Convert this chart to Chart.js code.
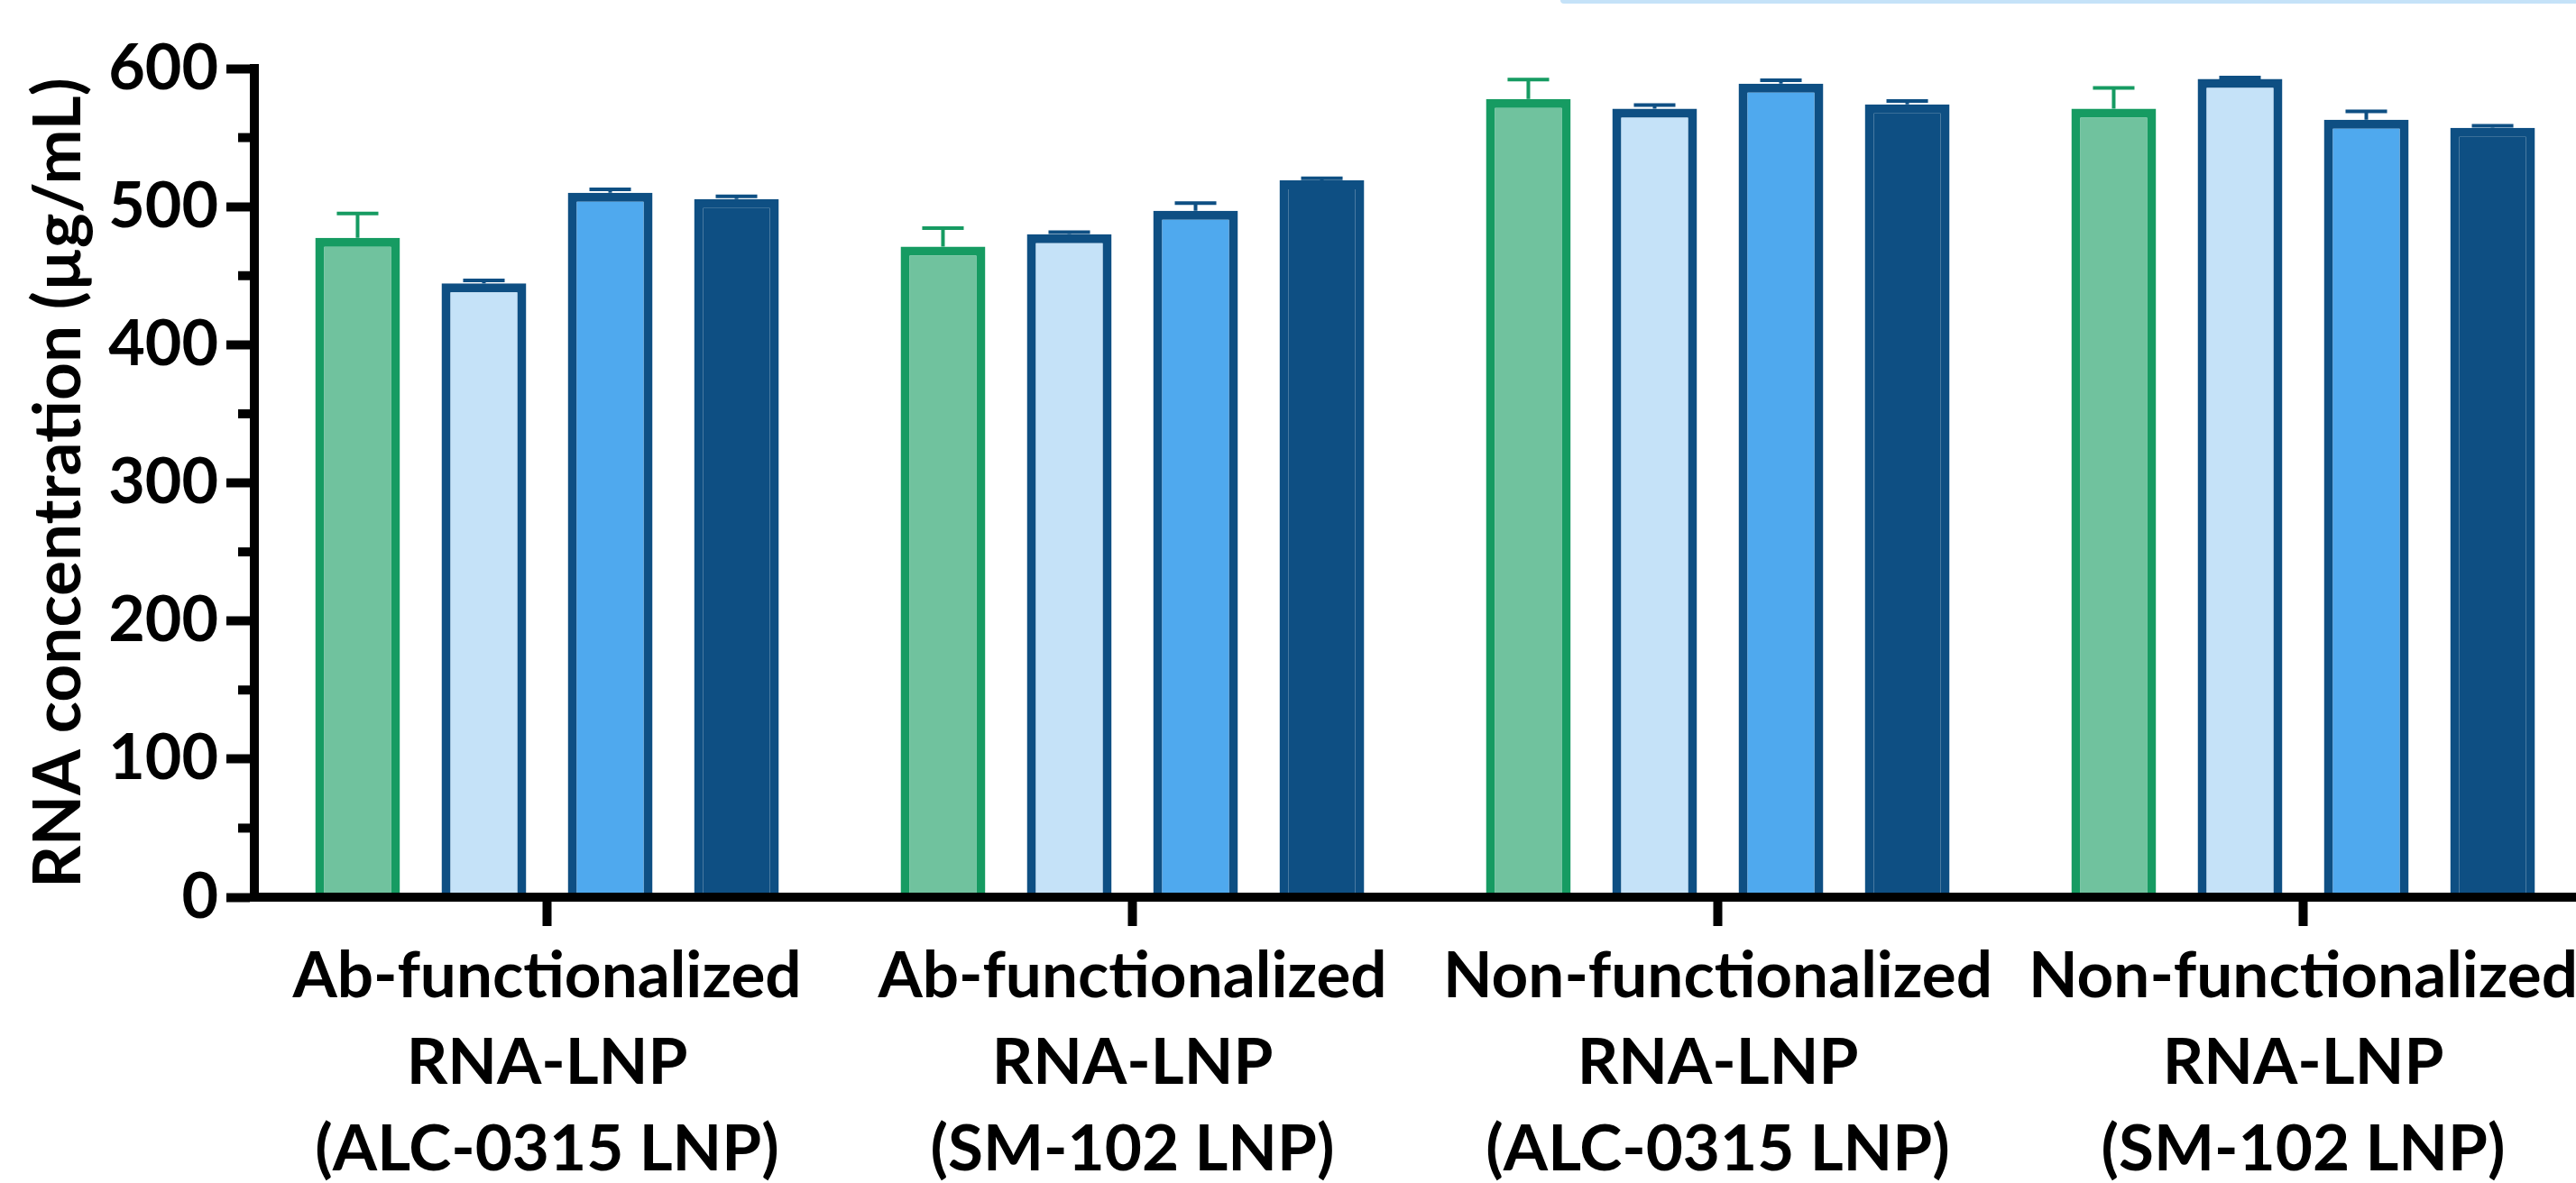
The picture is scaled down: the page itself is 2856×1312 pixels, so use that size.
<!DOCTYPE html>
<html>
<head>
<meta charset="utf-8">
<title>RNA concentration</title>
<script src="https://cdn.jsdelivr.net/npm/chart.js@4.4.1/dist/chart.umd.min.js"></script>
<style>
    html, body {
        margin: 0;
        padding: 0;
        background: #ffffff;
        overflow: hidden;
    }
    #wrap {
        position: relative;
        width: 2856px;
        height: 1312px;
        overflow: hidden;
    }
    /* light blue strip cut off at the top right of the figure */
    #topStrip {
        position: absolute;
        top: 0;
        left: 1730px;
        right: 0;
        height: 4px;
        background: #c5e2f8;
        border-bottom-left-radius: 4px;
    }
    #chart {
        position: absolute;
        left: 0;
        top: 0;
    }
</style>
</head>
<body>
<div id="wrap">
    <div id="topStrip"></div>
    <canvas id="chart" width="2878" height="1312"></canvas>
</div>
<script>
// Categories (x axis)
const categories = [
    ["Ab-functionalized", "RNA-LNP", "(ALC-0315 LNP)"],
    ["Ab-functionalized", "RNA-LNP", "(SM-102 LNP)"],
    ["Non-functionalized", "RNA-LNP", "(ALC-0315 LNP)"],
    ["Non-functionalized", "RNA-LNP", "(SM-102 LNP)"],
];

// Series values (µg/mL) and their upper error bars
const greenValues = [477.5, 471, 578, 571];
const greenErrors = [17.5, 13.5, 14, 15];
const lightBlueValues = [444.5, 480, 571, 592.5];
const lightBlueErrors = [2, 1.5, 2.5, 1];
const blueValues = [510, 497, 589, 563];
const blueErrors = [2.5, 5.5, 2.5, 6];
const navyValues = [505.5, 519, 574, 557];
const navyErrors = [2, 1.5, 2.5, 1.5];

// Y axis ticks
const yTicks = [0, 100, 200, 300, 400, 500, 600];
const yMinorTicks = [50, 150, 250, 350, 450, 550];

const FONT = "Lato";
const GREEN = "#169b62";
const NAVY = "#0e4f83";

// Upper error bars, drawn from the top of each bar
const errorBarPlugin = {
    id: "errorBars",
    afterDatasetsDraw(chart) {
        const ctx = chart.ctx;
        const yScale = chart.scales.y;
        chart.data.datasets.forEach((ds, i) => {
            const meta = chart.getDatasetMeta(i);
            meta.data.forEach((bar, j) => {
                const top = yScale.getPixelForValue(ds.data[j] + ds.errors[j]);
                const half = bar.width * 0.245;
                ctx.save();
                ctx.strokeStyle = ds.borderColor;
                ctx.lineWidth = 4;
                ctx.beginPath();
                ctx.moveTo(bar.x, bar.y);
                ctx.lineTo(bar.x, top);
                ctx.moveTo(bar.x - half, top);
                ctx.lineTo(bar.x + half, top);
                ctx.stroke();
                ctx.restore();
            });
        });
    },
};

// Short minor ticks between the labelled ones on the y axis
const minorTickPlugin = {
    id: "minorTicks",
    afterDraw(chart) {
        const ctx = chart.ctx;
        const yScale = chart.scales.y;
        const x = chart.chartArea.left;
        ctx.save();
        ctx.strokeStyle = "#000";
        ctx.lineWidth = 10;
        yMinorTicks.forEach((v) => {
            const y = yScale.getPixelForValue(v);
            ctx.beginPath();
            ctx.moveTo(x - 18, y);
            ctx.lineTo(x, y);
            ctx.stroke();
        });
        ctx.restore();
    },
};

const barCommon = {
    borderWidth: 10,
    categoryPercentage: 0.863,
    barPercentage: 0.671,
};

const chartData = {
    labels: categories,
    datasets: [
        {
            ...barCommon,
            label: "green",
            data: greenValues,
            errors: greenErrors,
            backgroundColor: "#70c29e",
            borderColor: GREEN,
        },
        {
            ...barCommon,
            label: "light blue",
            data: lightBlueValues,
            errors: lightBlueErrors,
            backgroundColor: "#c5e2f8",
            borderColor: NAVY,
        },
        {
            ...barCommon,
            label: "blue",
            data: blueValues,
            errors: blueErrors,
            backgroundColor: "#4fa9ee",
            borderColor: NAVY,
        },
        {
            ...barCommon,
            label: "navy",
            data: navyValues,
            errors: navyErrors,
            backgroundColor: NAVY,
            borderColor: NAVY,
        },
    ],
};

new Chart(document.getElementById("chart"), {
    type: "bar",
    data: chartData,
    plugins: [errorBarPlugin, minorTickPlugin],
    options: {
        responsive: false,
        animation: false,
        events: [],
        layout: {
            padding: { top: 76, right: 0, bottom: 0, left: 0 },
        },
        plugins: {
            legend: { display: false },
            tooltip: { enabled: false },
        },
        scales: {
            x: {
                offset: true,
                afterFit: (scale) => {
                    scale.height = 1312 - 995;
                },
                grid: {
                    offset: false,
                    drawOnChartArea: false,
                    tickLength: 32,
                    tickWidth: 10,
                    tickColor: "#000",
                },
                border: { display: true, color: "#000", width: 10, z: 1 },
                ticks: {
                    autoSkip: false,
                    maxRotation: 0,
                    minRotation: 0,
                    padding: 8,
                    color: "#000",
                    font: { family: FONT, size: 71, weight: "bold", lineHeight: 1.352 },
                },
            },
            y: {
                min: 0,
                max: 600,
                afterFit: (scale) => {
                    scale.width = 282;
                },
                afterBuildTicks: (scale) => {
                    scale.ticks = yTicks.map((v) => ({ value: v }));
                },
                grid: {
                    drawOnChartArea: false,
                    tickLength: 31,
                    tickWidth: 10,
                    tickColor: "#000",
                },
                border: { display: true, color: "#000", width: 10, z: 1 },
                ticks: {
                    padding: 9,
                    color: "#000",
                    font: { family: FONT, size: 70, weight: "bold" },
                },
                title: {
                    display: true,
                    text: "RNA concentration (µg/mL)",
                    color: "#000",
                    padding: { top: 22, bottom: 0 },
                    font: { family: FONT, size: 73, weight: "bold" },
                },
            },
        },
    },
});
</script>
</body>
</html>
